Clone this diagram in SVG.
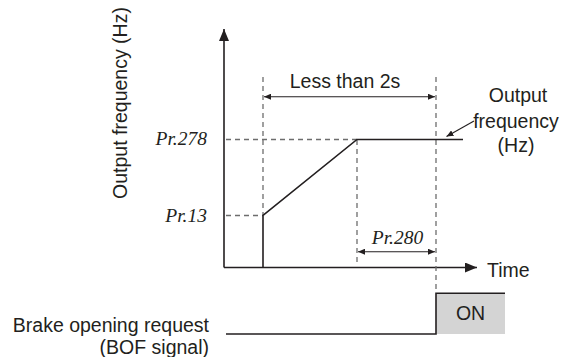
<svg xmlns="http://www.w3.org/2000/svg" width="566" height="357" viewBox="0 0 566 357">
<style>
.t{font-family:"Liberation Sans",Arial,sans-serif;font-size:19.5px;fill:#231f20}
.p{font-family:"Liberation Serif","Times New Roman",serif;font-style:italic;font-size:19.5px;fill:#231f20}
.s{stroke:#231f20;stroke-width:1.6;fill:none}
.d{stroke:#6d6d6d;stroke-width:1.3;stroke-dasharray:5 4;fill:none}
.a{stroke:#231f20;stroke-width:1.1;fill:none}
</style>
<defs>
<marker id="big" viewBox="0 0 12 10" refX="12" refY="5" markerWidth="12" markerHeight="10" markerUnits="userSpaceOnUse" orient="auto">
<path d="M0,0 L12,5 L0,10 Z" fill="#231f20"/>
</marker>
<marker id="sm" viewBox="0 0 7 6" refX="7" refY="3" markerWidth="7" markerHeight="6" markerUnits="userSpaceOnUse" orient="auto-start-reverse">
<path d="M0,0 L7,3 L0,6 Z" fill="#231f20"/>
</marker>
</defs>
<g id="connectors">
<!-- axes -->
<line class="s" x1="224" y1="267.5" x2="224" y2="29" marker-end="url(#big)"/>
<line class="s" x1="224" y1="267.5" x2="477" y2="267.5" marker-end="url(#big)"/>
<!-- dashed guides -->
<line class="d" x1="263" y1="77" x2="263" y2="215.5"/>
<line class="d" x1="357" y1="140" x2="357" y2="264"/>
<line class="d" x1="436" y1="77" x2="436" y2="293"/>
<line class="d" x1="226" y1="139.5" x2="357" y2="139.5"/>
<line class="d" x1="226" y1="215.5" x2="263" y2="215.5"/>
<!-- output frequency curve -->
<polyline class="s" points="263,267.5 263,215.5 357,139.5 463,139.5"/>
<!-- dimension arrows -->
<line class="a" x1="264" y1="96.7" x2="435" y2="96.7" marker-start="url(#sm)" marker-end="url(#sm)"/>
<line class="a" x1="358" y1="251.7" x2="435" y2="251.7" marker-start="url(#sm)" marker-end="url(#sm)"/>
<line class="a" x1="474" y1="121" x2="446.5" y2="136.5" marker-end="url(#sm)"/>
</g>
<g id="bof-signal">
<rect x="436" y="293.3" width="69" height="40.7" fill="#d4d4d4"/>
<polyline class="s" points="226,334 436,334 436,293.3 505,293.3"/>
<text class="t" x="470.5" y="320" text-anchor="middle">ON</text>
</g>
<g id="labels">
<text class="t" transform="translate(127,103) rotate(-90)" text-anchor="middle">Output frequency (Hz)</text>
<text class="t" x="345" y="88" text-anchor="middle">Less than 2s</text>
<text class="t" x="518" y="102" text-anchor="middle">Output</text>
<text class="t" x="516" y="127.5" text-anchor="middle">frequency</text>
<text class="t" x="516" y="152" text-anchor="middle">(Hz)</text>
<text class="p" x="207" y="145" text-anchor="end">Pr.278</text>
<text class="p" x="207" y="222" text-anchor="end">Pr.13</text>
<text class="p" x="397.5" y="244" text-anchor="middle">Pr.280</text>
<text class="t" x="487" y="277.3">Time</text>
<text class="t" x="209" y="331.7" text-anchor="end">Brake opening request</text>
<text class="t" x="209" y="354" text-anchor="end">(BOF signal)</text>
</g>
</svg>
